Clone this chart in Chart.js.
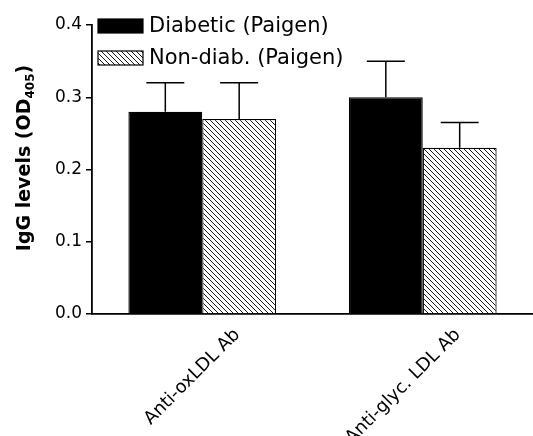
<!DOCTYPE html>
<html>
<head>
<meta charset="utf-8">
<script src="https://cdn.jsdelivr.net/npm/chart.js@4"></script>
<style>
  html, body { margin: 0; padding: 0; background: #fff; }
  #wrap { width: 533px; height: 436px; }
</style>
</head>
<body>
<div id="wrap"><canvas id="chart"></canvas></div>
<script>
// Chart data
var categories = ['Anti-oxLDL Ab', 'Anti-glyc. LDL Ab'];
var seriesNames = ['Diabetic (Paigen)', 'Non-diab. (Paigen)'];
var diabetic = [0.28, 0.30];
var diabeticErr = [0.04, 0.05];
var nonDiab = [0.27, 0.23];
var nonDiabErr = [0.05, 0.035];
var yTicks = [0.0, 0.1, 0.2, 0.3, 0.4];
var yTitleMain = 'IgG levels (OD';
var yTitleSub = '405';

var FONT = "'DejaVu Sans', sans-serif";

// Diagonal hatch pattern (lines going down to the right)
function makeHatch() {
    var c = document.createElement('canvas');
    c.width = 5; c.height = 5;
    var g = c.getContext('2d');
    g.fillStyle = '#fff';
    g.fillRect(0, 0, 5, 5);
    g.strokeStyle = '#000';
    g.lineWidth = 0.9;
    g.beginPath();
    g.moveTo(-1, -1); g.lineTo(6, 6);
    g.moveTo(-1, 4); g.lineTo(1, 6);
    g.moveTo(4, -1); g.lineTo(6, 1);
    g.stroke();
    return g.createPattern(c, 'repeat');
}
var hatch = makeHatch();

// Error bars (upper side only) drawn over the bars
var errorBars = {
    id: 'errorBars',
    afterDatasetsDraw: function(chart) {
        var ctx = chart.ctx;
        var y = chart.scales.y;
        ctx.save();
        ctx.strokeStyle = '#000';
        ctx.lineWidth = 1.5;
        chart.data.datasets.forEach(function(ds, i) {
            var meta = chart.getDatasetMeta(i);
            meta.data.forEach(function(bar, j) {
                var top = y.getPixelForValue(ds.data[j] + ds.errors[j]);
                ctx.beginPath();
                ctx.moveTo(bar.x, bar.y);
                ctx.lineTo(bar.x, top);
                ctx.moveTo(bar.x - 19, top);
                ctx.lineTo(bar.x + 19, top);
                ctx.stroke();
            });
        });
        ctx.restore();
    }
};

// Rotated category labels, y title with subscript, legend inside the plot
var decorations = {
    id: 'decorations',
    afterDraw: function(chart) {
        var ctx = chart.ctx;
        var x = chart.scales.x;
        var area = chart.chartArea;
        ctx.save();
        ctx.fillStyle = '#000';

        // category labels
        ctx.font = '18px ' + FONT;
        ctx.textAlign = 'right';
        ctx.textBaseline = 'middle';
        categories.forEach(function(label, i) {
            ctx.save();
            ctx.translate(x.getPixelForValue(i) + 35, area.bottom + 18);
            ctx.rotate(-Math.PI / 4);
            ctx.fillText(label, 0, 0);
            ctx.restore();
        });

        // y axis title
        ctx.save();
        ctx.translate(30, 158);
        ctx.rotate(-Math.PI / 2);
        ctx.textBaseline = 'alphabetic';
        ctx.textAlign = 'left';
        var mainFont = 'bold 19px ' + FONT;
        var subFont = 'bold 12px ' + FONT;
        ctx.font = mainFont;
        var w1 = ctx.measureText(yTitleMain).width;
        ctx.font = subFont;
        var w2 = ctx.measureText(yTitleSub).width;
        ctx.font = mainFont;
        var w3 = ctx.measureText(')').width;
        var start = -(w1 + w2 + w3) / 2;
        ctx.fillText(yTitleMain, start, 0);
        ctx.font = subFont;
        ctx.fillText(yTitleSub, start + w1, 4);
        ctx.font = mainFont;
        ctx.fillText(')', start + w1 + w2, 0);
        ctx.restore();

        // legend
        ctx.font = '21px ' + FONT;
        ctx.textAlign = 'left';
        ctx.textBaseline = 'middle';
        chart.data.datasets.forEach(function(ds, i) {
            var top = 19 + i * 32;
            ctx.fillStyle = ds.backgroundColor;
            ctx.fillRect(98, top, 45, 14);
            ctx.strokeStyle = '#000';
            ctx.lineWidth = 1.2;
            ctx.strokeRect(98, top, 45, 14);
            ctx.fillStyle = '#000';
            ctx.fillText(seriesNames[i], 149, top + 8);
        });
        ctx.restore();
    }
};

var ctx = document.getElementById('chart').getContext('2d');
var chart = new Chart(ctx, {
    type: 'bar',
    data: {
        labels: categories,
        datasets: [{
            label: seriesNames[0],
            data: diabetic,
            errors: diabeticErr,
            backgroundColor: '#000',
            borderColor: '#000',
            borderWidth: 1.2
        }, {
            label: seriesNames[1],
            data: nonDiab,
            errors: nonDiabErr,
            backgroundColor: hatch,
            borderColor: '#000',
            borderWidth: 1.2
        }]
    },
    options: {
        responsive: true,
        maintainAspectRatio: false,
        animation: false,
        layout: { padding: { top: 25, right: 0, left: 0, bottom: 0 } },
        plugins: {
            legend: { display: false },
            tooltip: { enabled: false }
        },
        datasets: {
            bar: { categoryPercentage: 0.67, barPercentage: 1.0 }
        },
        scales: {
            x: {
                grid: { display: false, drawTicks: false },
                border: { color: '#000', width: 1.8 },
                ticks: { display: false },
                afterFit: function(s) { s.height = 122; }
            },
            y: {
                min: 0,
                max: 0.4,
                afterBuildTicks: function(s) {
                    s.ticks = yTicks.map(function(v) { return { value: v }; });
                },
                grid: { drawOnChartArea: false, drawTicks: true, tickLength: 6, color: '#000', lineWidth: 1.5 },
                border: { color: '#000', width: 1.8 },
                ticks: {
                    color: '#000',
                    padding: 4,
                    font: { family: FONT, size: 17 },
                    callback: function(v) { return v.toFixed(1); }
                },
                afterFit: function(s) { s.width = 92; }
            }
        }
    },
    plugins: [errorBars, decorations]
});
</script>
</body>
</html>
